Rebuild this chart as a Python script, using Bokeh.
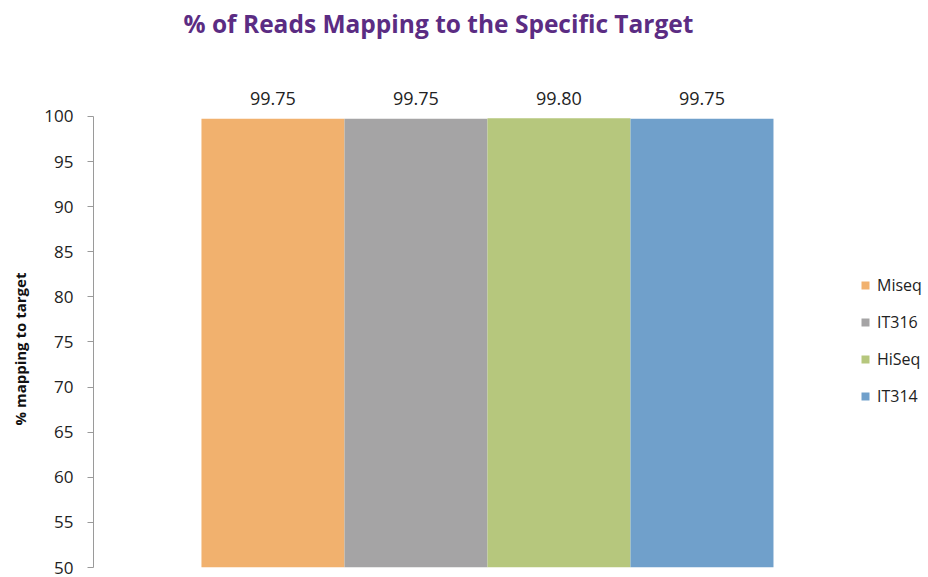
from bokeh.plotting import figure
from bokeh.models import ColumnDataSource, LabelSet, Label, Legend, LegendItem, FixedTicker, Range1d, Title
from bokeh.core.properties import value
from bokeh.embed import file_html
from bokeh.resources import INLINE

title_text = "% of Reads Mapping to the Specific Target"
y_label = "% mapping to target"
categories = ["Miseq", "IT316", "HiSeq", "IT314"]
values = [99.75, 99.75, 99.80, 99.75]
value_labels = ["99.75", "99.75", "99.80", "99.75"]
colors = ["#F1B16E", "#A5A4A5", "#B6C77D", "#70A0CB"]
y_ticks = [50, 55, 60, 65, 70, 75, 80, 85, 90, 95, 100]

src = ColumnDataSource(dict(
    x=[i + 0.5 for i in range(len(categories))],
    cat=categories, top=values, lab=value_labels, color=colors,
))

p = figure(width=928, height=577, output_backend="svg", toolbar_location=None,
           x_range=Range1d(-0.755, 5.084), y_range=Range1d(50, 112.86),
           min_border_left=93, min_border_right=0, min_border_top=0, min_border_bottom=10)
p.outline_line_color = None
p.xgrid.visible = False
p.ygrid.visible = False
p.xaxis.visible = False

r = p.vbar(x="x", width=1.0, top="top", bottom=50, color="color", line_color=None, source=src)

labels = LabelSet(x="x", y="top", text="lab", source=src, y_offset=20,
                  text_align="center", text_baseline="middle",
                  text_font=value("Open Sans"), text_font_size=value("18px"), text_color="#222222")
p.add_layout(labels)

ax = p.yaxis[0]
ax.bounds = (50, 100)
ax.ticker = FixedTicker(ticks=y_ticks)
ax.axis_line_color = "#9a9a9a"
ax.major_tick_line_color = "#9a9a9a"
ax.major_tick_out = 6
ax.major_tick_in = 0
ax.minor_tick_line_color = None
ax.major_label_standoff = 14
ax.major_label_text_font = "Open Sans"
ax.major_label_text_font_size = "17px"
ax.major_label_text_color = "#222222"

ylab = Title(text=y_label, align="left", offset=142, standoff=19, vertical_align="top",
             text_font="Open Sans", text_font_style="bold", text_font_size="15px",
             text_color="#111111")
p.add_layout(ylab, "left")

items = [LegendItem(label=c, renderers=[r], index=i) for i, c in enumerate(categories)]
legend = Legend(items=items, location=(767, 160), glyph_width=10, glyph_height=10,
                label_height=20, spacing=15, padding=0, margin=0, label_standoff=7,
                label_text_font="Open Sans", label_text_font_size="16px",
                label_text_color="#222222", border_line_color=None, background_fill_alpha=0)
p.add_layout(legend)

title = Label(text=title_text, x=90, y=544, x_units="screen", y_units="screen",
              text_align="left", text_baseline="middle",
              text_font="Open Sans", text_font_style="bold", text_font_size="24.5px",
              text_color="#5B2C83")
p.add_layout(title)

open("out.html", "w").write(file_html(p, INLINE))
